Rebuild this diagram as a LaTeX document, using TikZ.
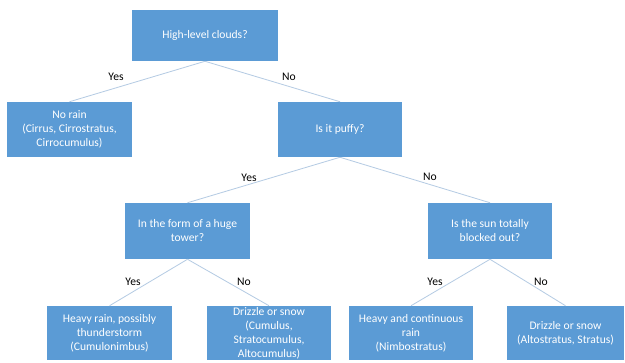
\documentclass[tikz,border=0pt]{standalone}
\usepackage{fontspec}
\setmainfont{Carlito}
\definecolor{boxblue}{HTML}{5B9BD5}
\definecolor{linkcol}{HTML}{B4CBE3}
\begin{document}
\begin{tikzpicture}[x=0.75pt,y=-0.75pt,
  box/.style={fill=boxblue,draw=none,text=white,align=center,inner sep=0pt,
    font=\fontsize{8.7}{10.5}\selectfont},
  link/.style={draw=linkcol,line width=0.6pt},
  lbl/.style={font=\fontsize{8.7}{10}\selectfont,text=black,inner sep=0pt}]
\useasboundingbox[fill=white] (0,0) rectangle (625,362);
\node[box,minimum width=109.5pt,minimum height=38.25pt] (top) at (205,35.5) {High-level clouds?};
\node[box,minimum width=93.75pt,minimum height=41.25pt] (norain) at (69.5,129.5) {No rain\\(Cirrus, Cirrostratus,\\Cirrocumulus)};
\node[box,minimum width=93pt,minimum height=41.25pt] (puffy) at (340,129.5) {Is it puffy?};
\node[box,minimum width=93.75pt,minimum height=42pt] (tower) at (187.5,231) {In the form of a huge\\tower?};
\node[box,minimum width=93pt,minimum height=42pt] (sun) at (490,231) {Is the sun totally\\blocked out?};
\node[box,minimum width=93.75pt,minimum height=40.5pt] (heavy) at (109.5,333) {Heavy rain, possibly\\thunderstorm\\(Cumulonimbus)};
\node[box,minimum width=93pt,minimum height=40.5pt] (drz1) at (269,333) {Drizzle or snow\\(Cumulus,\\Stratocumulus,\\Altocumulus)};
\node[box,minimum width=93pt,minimum height=40.5pt] (nimbo) at (411,333) {Heavy and continuous\\rain\\(Nimbostratus)};
\node[box,minimum width=87.75pt,minimum height=40.5pt] (drz2) at (565.5,333) {Drizzle or snow\\(Altostratus, Stratus)};
\draw[link] (top.south) -- (norain.north);
\draw[link] (top.south) -- (puffy.north);
\draw[link] (puffy.south) -- (tower.north);
\draw[link] (puffy.south) -- (sun.north);
\draw[link] (tower.south) -- (heavy.north);
\draw[link] (tower.south) -- (drz1.north);
\draw[link] (sun.south) -- (nimbo.north);
\draw[link] (sun.south) -- (drz2.north);
\node[lbl] (l1) at (116,77) {Yes};
\node[lbl] (l2) at (289,77) {No};
\node[lbl] (l3) at (249,178) {Yes};
\node[lbl] (l4) at (430,177) {No};
\node[lbl] (l5) at (133,282) {Yes};
\node[lbl] (l6) at (244,282) {No};
\node[lbl] (l7) at (435,282) {Yes};
\node[lbl] (l8) at (541,282) {No};
\end{tikzpicture}
\end{document}
